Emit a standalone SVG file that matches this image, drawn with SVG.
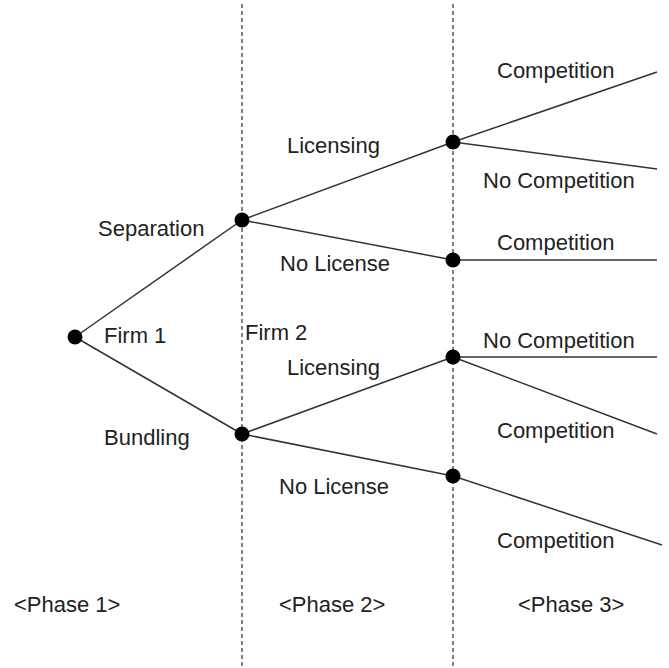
<svg xmlns="http://www.w3.org/2000/svg" width="669" height="668" viewBox="0 0 669 668">
<style>
text{font-family:"Liberation Sans",Arial,sans-serif;font-size:22px;fill:#222}
.dash{stroke:#555;stroke-width:1.5;stroke-dasharray:4,3;fill:none}
.edge{stroke:#333;stroke-width:1.5;fill:none}
.dot{fill:#000}
</style>
<rect width="669" height="668" fill="#fff"/>
<g id="phase-lines">
<line class="dash" x1="242" y1="4" x2="242" y2="667"/>
<line class="dash" x1="453" y1="4" x2="453" y2="667"/>
</g>
<g id="connectors">
<line class="edge" x1="75" y1="337" x2="242" y2="220"/>
<line class="edge" x1="75" y1="337" x2="242" y2="434"/>
<line class="edge" x1="242" y1="220" x2="453" y2="142"/>
<line class="edge" x1="242" y1="220" x2="453" y2="260"/>
<line class="edge" x1="242" y1="434" x2="453" y2="357"/>
<line class="edge" x1="242" y1="434" x2="453" y2="476"/>
<line class="edge" x1="453" y1="142" x2="657" y2="72"/>
<line class="edge" x1="453" y1="142" x2="657" y2="169"/>
<line class="edge" x1="453" y1="260" x2="657" y2="260"/>
<line class="edge" x1="453" y1="357" x2="657" y2="357"/>
<line class="edge" x1="453" y1="357" x2="657" y2="434"/>
<line class="edge" x1="453" y1="476" x2="662" y2="545"/>
</g>
<g id="firm1"><circle class="dot" cx="75" cy="337" r="7.5"/><text x="104" y="343">Firm 1</text></g>
<g id="separation"><circle class="dot" cx="242" cy="220" r="7.5"/><text x="98" y="236">Separation</text></g>
<g id="bundling"><circle class="dot" cx="242" cy="434" r="7.5"/><text x="104" y="445">Bundling</text></g>
<g id="firm2-label"><text x="245" y="340">Firm 2</text></g>
<g id="sep-licensing"><circle class="dot" cx="453" cy="142" r="7.5"/><text x="287" y="153">Licensing</text></g>
<g id="sep-nolicense"><circle class="dot" cx="453" cy="260" r="7.5"/><text x="280" y="271">No License</text></g>
<g id="bun-licensing"><circle class="dot" cx="453" cy="357" r="7.5"/><text x="287" y="375">Licensing</text></g>
<g id="bun-nolicense"><circle class="dot" cx="453" cy="476" r="7.5"/><text x="279" y="494">No License</text></g>
<g id="outcomes">
<text x="497" y="78">Competition</text>
<text x="483" y="188">No Competition</text>
<text x="497" y="250">Competition</text>
<text x="483" y="348">No Competition</text>
<text x="497" y="438">Competition</text>
<text x="497" y="548">Competition</text>
</g>
<g id="phases">
<text x="14" y="612">&lt;Phase 1&gt;</text>
<text x="279" y="612">&lt;Phase 2&gt;</text>
<text x="518" y="612">&lt;Phase 3&gt;</text>
</g>
</svg>
